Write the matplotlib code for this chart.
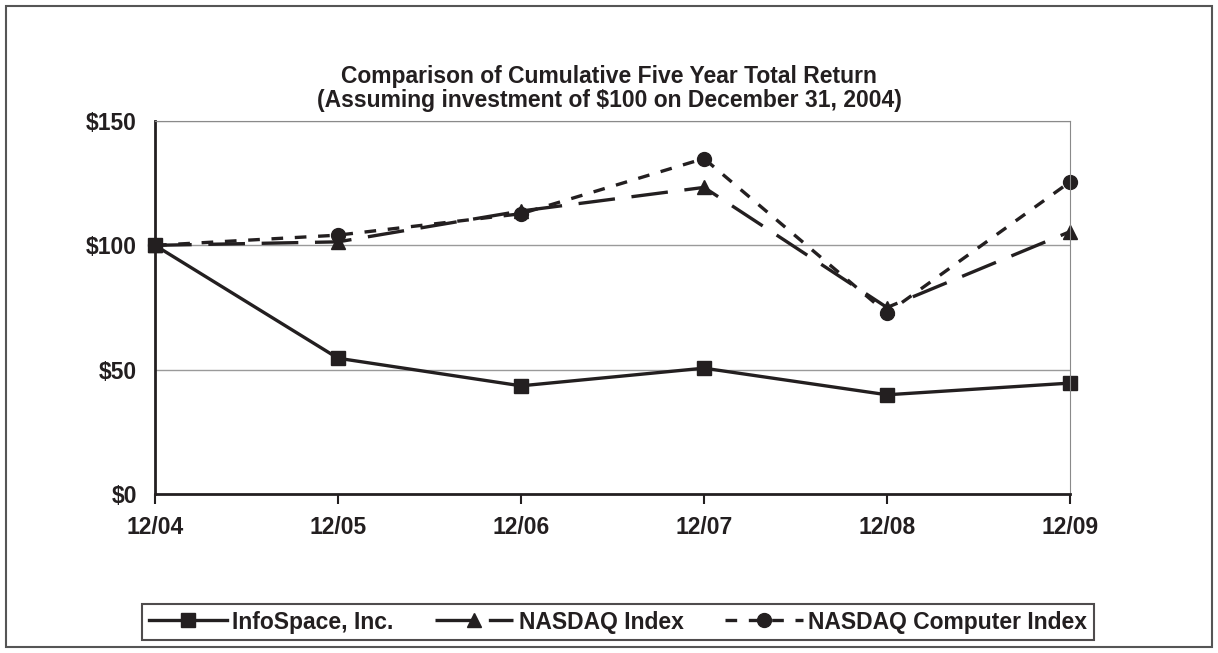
import matplotlib.pyplot as plt
from matplotlib.patches import Rectangle

plt.rcParams["font.family"] = ["Liberation Sans", "DejaVu Sans"]
plt.rcParams["font.weight"] = "bold"

periods = ["12/04", "12/05", "12/06", "12/07", "12/08", "12/09"]
infospace = [100, 54.6, 43.5, 50.6, 39.9, 44.6]
nasdaq_index = [100, 101.4, 113.8, 123.3, 75.0, 105.5]
nasdaq_computer = [100, 104.1, 112.7, 134.9, 72.7, 125.5]
y_ticks = [0, 50, 100, 150]
y_labels = ["$0", "$50", "$100", "$150"]

FS = 16.5
INK = "#231f20"

fig = plt.figure(figsize=(12.18, 6.53), dpi=100)
ax = fig.add_axes([155 / 1218, 1 - 494 / 653, 915 / 1218, 373 / 653])

x = list(range(len(periods)))
ln1, = ax.plot(x, infospace, color=INK, lw=2.4, marker="s", markersize=10,
               label="InfoSpace, Inc.")
ln2, = ax.plot(x, nasdaq_index, color=INK, lw=2.4, marker="^", markersize=10,
               dashes=(11, 5), label="NASDAQ Index")
ln3, = ax.plot(x, nasdaq_computer, color=INK, lw=2.4, marker="o", markersize=10,
               dashes=(3.5, 3.5), label="NASDAQ Computer Index")

ax.set_xlim(0, 5)
ax.set_ylim(0, 150)
ax.set_xticks(x)
ax.set_xticklabels(periods, fontsize=FS, fontweight="bold", color=INK)
ax.set_yticks(y_ticks)
ax.set_yticklabels(y_labels, fontsize=FS, fontweight="bold", color=INK)
ax.tick_params(axis="y", length=0, pad=13)
ax.tick_params(axis="x", length=7, width=1.5, pad=9, direction="out", color=INK)
ax.grid(axis="y", color="#9a9a9a", lw=1)
for line in ax.get_ygridlines()[:1]:
    line.set_visible(False)
ax.spines["left"].set_linewidth(2)
ax.spines["bottom"].set_linewidth(2)
ax.spines["left"].set_color(INK)
ax.spines["bottom"].set_color(INK)
ax.spines["top"].set_color("#8a8a8a")
ax.spines["right"].set_color("#8a8a8a")
for ln in (ln1, ln2, ln3):
    ln.set_clip_on(False)

fig.text(0.5, 1 - 77 / 653, "Comparison of Cumulative Five Year Total Return",
         ha="center", va="center", fontsize=FS, fontweight="bold", color=INK)
fig.text(0.5, 1 - 101 / 653, "(Assuming investment of $100 on December 31, 2004)",
         ha="center", va="center", fontsize=FS, fontweight="bold", color=INK)

leg = fig.legend(handles=[ln1, ln2, ln3], ncol=3, loc="center",
                 bbox_to_anchor=(618 / 1218, 1 - 622 / 653), fontsize=FS,
                 frameon=True, fancybox=False, handlelength=3.4, columnspacing=1.8,
                 handletextpad=0.25, borderpad=0.3, borderaxespad=0)
leg.get_frame().set_edgecolor(INK)
leg.get_frame().set_linewidth(1.5)
for t in leg.get_texts():
    t.set_color(INK)

fig.patches.append(Rectangle((6 / 1218, 6 / 653), 1206 / 1218, 641 / 653,
                             transform=fig.transFigure, fill=False,
                             edgecolor="#555555", lw=1.5))

fig.savefig("out.png", dpi=100)
